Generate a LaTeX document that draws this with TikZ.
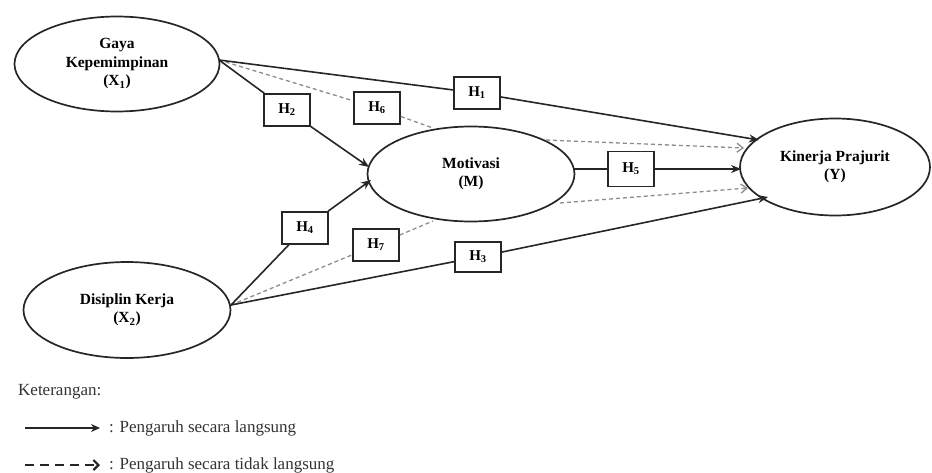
\documentclass[tikz,border=0pt]{standalone}
\usepackage{fontspec}
\setmainfont{Liberation Serif}
\usetikzlibrary{arrows.meta,shapes.geometric}
\begin{document}
\begin{tikzpicture}[x=1pt,y=-1pt,
  latent/.style={ellipse,draw=black!85,line width=1.7pt,fill=white,inner sep=0pt,align=center,
     font=\fontsize{15.5}{18.5}\selectfont\bfseries},
  hbox/.style={draw=black!85,line width=1.6pt,fill=white,minimum width=46pt,minimum height=32pt,inner sep=0pt,
     font=\fontsize{15}{16}\selectfont\bfseries},
  direct/.style={draw=black!85,line width=1.6pt},
  directarrow/.style={direct,-{Stealth[length=10pt,width=8pt]}},
  indirect/.style={draw=black!45,line width=1.3pt,dash pattern=on 4pt off 3pt},
  indirectarrow/.style={indirect,-{Straight Barb[length=6pt,width=9pt]}},
  legtext/.style={anchor=west,inner sep=0pt,font=\fontsize{17}{20}\selectfont,text=black!80}
]
\useasboundingbox (0,0) rectangle (932,472);

% latent variables
\node[latent,minimum width=205pt,minimum height=95pt] (X1) at (117,64) {Gaya\\Kepemimpinan\\(X\textsubscript{1})};
\node[latent,minimum width=207pt,minimum height=96pt] (X2) at (127,310) {Disiplin Kerja\\(X\textsubscript{2})};
\node[latent,minimum width=207pt,minimum height=95pt] (M) at (471,174) {Motivasi\\(M)};
\node[latent,minimum width=190pt,minimum height=97pt] (Y) at (835,167) {Kinerja Prajurit\\(Y)};

% hypothesis boxes
\node[hbox] (H1) at (477,93) {H\textsubscript{1}};
\node[hbox] (H2) at (287,110) {H\textsubscript{2}};
\node[hbox] (H6) at (377,108) {H\textsubscript{6}};
\node[hbox,minimum height=35pt] (H5) at (631,169) {H\textsubscript{5}};
\node[hbox] (H4) at (305,228) {H\textsubscript{4}};
\node[hbox] (H7) at (376,245) {H\textsubscript{7}};
\node[hbox,minimum height=30pt] (H3) at (478,257) {H\textsubscript{3}};

% connection points
\coordinate (x1e) at (219,60);
\coordinate (x2e) at (231,305);
\coordinate (mH2) at (369,167);
\coordinate (mH4) at (371,180);
\coordinate (mTop) at (433,128);
\coordinate (mBot) at (433,221);
\coordinate (mNE) at (546,140);
\coordinate (mSE) at (560,203);
\coordinate (mE) at (574,169);
\coordinate (yW) at (741,169);
\coordinate (yH1) at (759,140);
\coordinate (yH6) at (744,148);
\coordinate (yH7) at (748,188);
\coordinate (yH3) at (768,197);

% indirect effects
\draw[indirect] (x1e) -- (H6);
\draw[indirect] (H6) -- (mTop);
\draw[indirectarrow] (mNE) -- (yH6);
\draw[indirect] (x2e) -- (H7);
\draw[indirect] (H7) -- (mBot);
\draw[indirectarrow] (mSE) -- (yH7);

% direct effects
\draw[direct] (x1e) -- (H1);
\draw[directarrow] (H1) -- (yH1);
\draw[direct] (x1e) -- (H2);
\draw[directarrow] (H2) -- (mH2);
\draw[direct] (x2e) -- (H4);
\draw[directarrow] (H4) -- (mH4);
\draw[direct] (x2e) -- (H3);
\draw[directarrow] (H3) -- (yH3);
\draw[direct] (mE) -- (H5);
\draw[directarrow] (H5) -- (yW);

% legend
\node[legtext] (ket) at (18,392) {Keterangan:};
\coordinate (l1a) at (25,428);
\coordinate (l1b) at (100,428);
\coordinate (l2a) at (25,465);
\coordinate (l2b) at (100,465);
\draw[direct,line width=1.7pt,-{Stealth[length=9pt,width=8pt]}] (l1a) -- (l1b);
\draw[draw=black!85,line width=2.2pt,dash pattern=on 9pt off 6pt,-{Straight Barb[length=5pt,width=10pt]}] (l2a) -- (l2b);
\node[legtext] (leg1) at (109,428) {: Pengaruh secara langsung};
\node[legtext] (leg2) at (109,465) {: Pengaruh secara tidak langsung};
\end{tikzpicture}
\end{document}
